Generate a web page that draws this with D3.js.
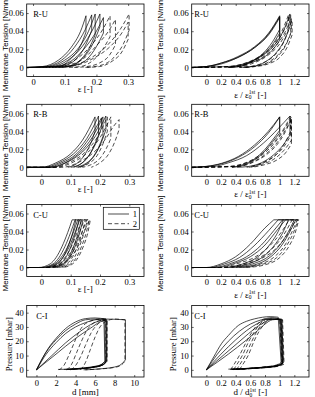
<!DOCTYPE html>
<html>
<head>
<meta charset="utf-8">
<script src="https://cdn.jsdelivr.net/npm/d3@7"></script>
<style>
  body { margin: 0; background: #fff; }
  svg { display: block; }
</style>
</head>
<body>
<div id="chart"></div>
<script>
// ---- values ----

// tick values
const strainTicks = [0, 0.1, 0.2, 0.3];
const normTicks = [0, 0.2, 0.4, 0.6, 0.8, 1, 1.2];
const tensionTicks = [0, 0.02, 0.04, 0.06];
const dispTicks = [0, 2, 4, 6, 8, 10];
const pressureTicks = [0, 10, 20, 30, 40];

const panelNames = ['R-U', 'R-U', 'R-B', 'R-B', 'C-U', 'C-U', 'C-I', 'C-I'];
const legendLabels = ['1', '2'];

// each loop: s = series (1 solid, 2 dashed), load = loading branch, unload = branch after the drop
const ruStrain = [
  { s: 1, load: [[-0.02, 0], [0.03, 0.001], [0.08, 0.008], [0.12, 0.022], [0.15, 0.04], [0.167, 0.057]], unload: [[0.167, 0.039], [0.15, 0.024], [0.12, 0.01], [0.09, 0.002], [0.05, 0]] },
  { s: 1, load: [[-0.02, 0], [0.04, 0.001], [0.09, 0.008], [0.13, 0.022], [0.165, 0.042], [0.185, 0.058]], unload: [[0.185, 0.041], [0.165, 0.024], [0.135, 0.009], [0.1, 0.002], [0.06, 0]] },
  { s: 1, load: [[-0.02, 0], [0.05, 0.001], [0.1, 0.008], [0.14, 0.02], [0.175, 0.04], [0.196, 0.059]], unload: [[0.196, 0.036], [0.175, 0.02], [0.145, 0.007], [0.11, 0.001], [0.07, 0]] },
  { s: 1, load: [[-0.02, 0], [0.06, 0.001], [0.11, 0.008], [0.155, 0.023], [0.19, 0.043], [0.211, 0.059]], unload: [[0.211, 0.045], [0.19, 0.027], [0.16, 0.011], [0.12, 0.002], [0.08, 0]] },
  { s: 1, load: [[-0.02, 0], [0.07, 0.001], [0.12, 0.007], [0.16, 0.02], [0.2, 0.04], [0.222, 0.055]], unload: [[0.222, 0.038], [0.2, 0.023], [0.17, 0.009], [0.13, 0.002], [0.09, 0]] },
  { s: 2, load: [[0.01, 0], [0.09, 0.002], [0.14, 0.01], [0.18, 0.023], [0.22, 0.042], [0.243, 0.057]], unload: [[0.243, 0.034], [0.22, 0.02], [0.19, 0.008], [0.15, 0.001], [0.11, 0]] },
  { s: 2, load: [[0.02, 0], [0.1, 0.002], [0.16, 0.01], [0.2, 0.024], [0.24, 0.041], [0.26, 0.053]], unload: [[0.26, 0.025], [0.24, 0.013], [0.21, 0.005], [0.17, 0.001], [0.13, 0]] },
  { s: 2, load: [[0.03, 0], [0.12, 0.002], [0.18, 0.01], [0.23, 0.023], [0.275, 0.042], [0.303, 0.059]], unload: [[0.303, 0.041], [0.285, 0.026], [0.255, 0.011], [0.22, 0.003], [0.17, 0]] },
  { s: 2, load: [[0.04, 0], [0.13, 0.002], [0.19, 0.01], [0.24, 0.022], [0.28, 0.038], [0.3, 0.05]], unload: [[0.3, 0.031], [0.28, 0.017], [0.25, 0.007], [0.21, 0.001], [0.16, 0]] }
];

const ruNorm = [
  { s: 1, load: [[-0.2, 0], [0, 0.001], [0.21, 0.005], [0.43, 0.011], [0.66, 0.022], [0.85, 0.037], [1, 0.056]], unload: [[1, 0.03], [0.9, 0.019], [0.78, 0.011], [0.6, 0.005], [0.45, 0.001], [0.3, 0]] },
  { s: 1, load: [[-0.2, 0], [0, 0.001], [0.21, 0.005], [0.43, 0.012], [0.66, 0.023], [0.85, 0.038], [1, 0.057]], unload: [[1, 0.038], [0.9, 0.025], [0.78, 0.015], [0.6, 0.006], [0.45, 0.002], [0.3, 0]] },
  { s: 1, load: [[-0.2, 0], [0, 0.001], [0.21, 0.004], [0.43, 0.011], [0.66, 0.022], [0.85, 0.036], [1, 0.055]], unload: [[1, 0.042], [0.9, 0.028], [0.78, 0.016], [0.6, 0.006], [0.45, 0.001], [0.3, 0]] },
  { s: 1, load: [[-0.2, 0], [0.3, 0.001], [0.55, 0.005], [0.78, 0.014], [0.95, 0.027], [1.06, 0.042], [1.14, 0.059]], unload: [[1.14, 0.045], [1.07, 0.031], [0.97, 0.018], [0.82, 0.007], [0.62, 0.001], [0.45, 0]] },
  { s: 2, load: [[-0.2, 0], [0.3, 0.001], [0.5, 0.004], [0.7, 0.011], [0.9, 0.024], [1.03, 0.04], [1.12, 0.058]], unload: [[1.12, 0.041], [1.05, 0.027], [0.95, 0.015], [0.8, 0.006], [0.6, 0.001], [0.45, 0]] },
  { s: 2, load: [[-0.2, 0], [0.35, 0.001], [0.55, 0.004], [0.75, 0.012], [0.93, 0.025], [1.06, 0.041], [1.15, 0.058]], unload: [[1.15, 0.037], [1.08, 0.024], [0.97, 0.012], [0.82, 0.004], [0.62, 0.001], [0.47, 0]] },
  { s: 2, load: [[-0.2, 0], [0.4, 0.001], [0.6, 0.005], [0.8, 0.013], [0.97, 0.026], [1.08, 0.04], [1.16, 0.055]], unload: [[1.16, 0.04], [1.1, 0.028], [1, 0.016], [0.85, 0.006], [0.65, 0.001], [0.5, 0]] },
  { s: 2, load: [[-0.2, 0], [0.45, 0.001], [0.65, 0.005], [0.85, 0.014], [1, 0.026], [1.1, 0.04], [1.17, 0.052]], unload: [[1.17, 0.036], [1.1, 0.022], [1, 0.011], [0.85, 0.004], [0.67, 0.001], [0.5, 0]] }
];

const rbStrain = [
  { s: 1, load: [[-0.05, 0], [0, 0], [0.05, 0.005], [0.1, 0.015], [0.14, 0.03], [0.183, 0.056]], unload: [[0.183, 0.04], [0.17, 0.028], [0.15, 0.015], [0.12, 0.004], [0.09, 0]] },
  { s: 1, load: [[-0.05, 0], [0.01, 0], [0.06, 0.005], [0.11, 0.015], [0.155, 0.032], [0.195, 0.057]], unload: [[0.195, 0.036], [0.18, 0.024], [0.16, 0.012], [0.13, 0.003], [0.1, 0]] },
  { s: 1, load: [[-0.05, 0], [0.02, 0], [0.07, 0.005], [0.12, 0.015], [0.165, 0.033], [0.205, 0.055]], unload: [[0.205, 0.044], [0.19, 0.03], [0.17, 0.017], [0.14, 0.005], [0.11, 0]] },
  { s: 1, load: [[-0.05, 0], [0.03, 0], [0.08, 0.005], [0.13, 0.016], [0.175, 0.034], [0.21, 0.056]], unload: [[0.21, 0.034], [0.195, 0.022], [0.175, 0.011], [0.145, 0.003], [0.12, 0]] },
  { s: 1, load: [[-0.05, 0], [0.035, 0], [0.09, 0.006], [0.14, 0.017], [0.185, 0.035], [0.22, 0.057]], unload: [[0.22, 0.042], [0.205, 0.028], [0.185, 0.015], [0.155, 0.004], [0.125, 0]] },
  { s: 2, load: [[-0.05, 0], [0.04, 0], [0.1, 0.006], [0.15, 0.017], [0.19, 0.033], [0.225, 0.056]], unload: [[0.225, 0.04], [0.21, 0.026], [0.19, 0.013], [0.16, 0.004], [0.13, 0]] },
  { s: 2, load: [[-0.05, 0], [0.05, 0], [0.11, 0.006], [0.16, 0.017], [0.2, 0.033], [0.237, 0.056]], unload: [[0.237, 0.032], [0.22, 0.02], [0.2, 0.01], [0.17, 0.003], [0.14, 0]] },
  { s: 2, load: [[-0.05, 0], [0.07, 0], [0.13, 0.006], [0.18, 0.017], [0.22, 0.032], [0.245, 0.045], [0.265, 0.053]], unload: [[0.265, 0.042], [0.25, 0.028], [0.23, 0.015], [0.2, 0.005], [0.17, 0]] }
];

const rbNorm = [
  { s: 1, load: [[-0.2, 0], [0, 0.001], [0.21, 0.0045], [0.435, 0.012], [0.66, 0.025], [0.845, 0.04], [1, 0.056]], unload: [[1, 0.038], [0.9, 0.028], [0.8, 0.018], [0.65, 0.008], [0.5, 0.002], [0.35, 0]] },
  { s: 1, load: [[-0.2, 0], [0, 0.001], [0.21, 0.004], [0.435, 0.011], [0.66, 0.023], [0.845, 0.038], [1, 0.056]], unload: [[1, 0.041], [0.9, 0.03], [0.8, 0.02], [0.65, 0.009], [0.5, 0.003], [0.35, 0]] },
  { s: 1, load: [[-0.2, 0], [0.1, 0.001], [0.3, 0.005], [0.55, 0.013], [0.78, 0.027], [0.98, 0.043], [1.14, 0.057]], unload: [[1.14, 0.036], [1.05, 0.025], [0.92, 0.014], [0.75, 0.005], [0.58, 0.001], [0.42, 0]] },
  { s: 2, load: [[-0.2, 0], [0.3, 0.001], [0.5, 0.004], [0.7, 0.012], [0.9, 0.026], [1.05, 0.042], [1.15, 0.057]], unload: [[1.15, 0.035], [1.05, 0.022], [0.9, 0.011], [0.7, 0.003], [0.55, 0]] },
  { s: 2, load: [[-0.2, 0], [0.35, 0.001], [0.55, 0.005], [0.75, 0.013], [0.93, 0.027], [1.07, 0.043], [1.16, 0.056]], unload: [[1.16, 0.03], [1.06, 0.019], [0.92, 0.009], [0.74, 0.003], [0.58, 0]] },
  { s: 2, load: [[-0.2, 0], [0.4, 0.001], [0.6, 0.005], [0.8, 0.014], [0.97, 0.028], [1.09, 0.043], [1.15, 0.052]], unload: [[1.15, 0.04], [1.07, 0.027], [0.95, 0.014], [0.78, 0.005], [0.6, 0]] },
  { s: 2, load: [[-0.2, 0], [0.45, 0.001], [0.65, 0.006], [0.85, 0.016], [1, 0.029], [1.1, 0.043], [1.16, 0.054]], unload: [[1.16, 0.026], [1.08, 0.016], [0.96, 0.008], [0.8, 0.003], [0.62, 0]] }
];

const cuStrain = [
  { s: 1, load: [[-0.05, 0], [-0.01, 0], [0.03, 0.004], [0.05, 0.011], [0.07, 0.023], [0.09, 0.039], [0.105, 0.053]], unload: [[0.118, 0.053], [0.108, 0.04], [0.094, 0.026], [0.075, 0.012], [0.05, 0.003], [0.02, 0]] },
  { s: 1, load: [[-0.05, 0], [0, 0], [0.04, 0.004], [0.06, 0.011], [0.08, 0.023], [0.1, 0.039], [0.115, 0.053]], unload: [[0.128, 0.053], [0.118, 0.04], [0.104, 0.026], [0.085, 0.012], [0.06, 0.003], [0.03, 0]] },
  { s: 1, load: [[-0.05, 0], [0.005, 0], [0.045, 0.004], [0.067, 0.011], [0.088, 0.022], [0.108, 0.038], [0.124, 0.053]], unload: [[0.136, 0.053], [0.126, 0.039], [0.112, 0.025], [0.093, 0.011], [0.068, 0.003], [0.038, 0]] },
  { s: 1, load: [[-0.05, 0], [0.01, 0], [0.05, 0.004], [0.073, 0.011], [0.095, 0.023], [0.115, 0.039], [0.131, 0.053]], unload: [[0.142, 0.053], [0.132, 0.04], [0.118, 0.026], [0.099, 0.012], [0.074, 0.003], [0.044, 0]] },
  { s: 2, load: [[-0.05, 0], [0.015, 0], [0.056, 0.004], [0.08, 0.011], [0.102, 0.023], [0.122, 0.039], [0.138, 0.053]], unload: [[0.15, 0.053], [0.14, 0.04], [0.126, 0.026], [0.107, 0.012], [0.082, 0.003], [0.052, 0]] },
  { s: 2, load: [[-0.05, 0], [0.02, 0], [0.062, 0.004], [0.087, 0.011], [0.11, 0.023], [0.13, 0.039], [0.146, 0.053]], unload: [[0.157, 0.053], [0.147, 0.04], [0.133, 0.026], [0.114, 0.012], [0.089, 0.003], [0.059, 0]] },
  { s: 2, load: [[-0.05, 0], [0.025, 0], [0.068, 0.004], [0.094, 0.011], [0.117, 0.023], [0.138, 0.039], [0.155, 0.053]], unload: [[0.163, 0.053], [0.154, 0.04], [0.14, 0.026], [0.121, 0.012], [0.096, 0.003], [0.066, 0]] },
  { s: 2, load: [[-0.05, 0], [0.03, 0], [0.074, 0.004], [0.1, 0.011], [0.124, 0.023], [0.145, 0.039], [0.16, 0.05], [0.165, 0.053]], unload: [[0.167, 0.053], [0.158, 0.038], [0.145, 0.025], [0.127, 0.012], [0.102, 0.003], [0.072, 0]] }
];

const cuNorm = [
  { s: 1, load: [[-0.2, 0], [0, 0], [0.2, 0.004], [0.4, 0.012], [0.6, 0.026], [0.8, 0.044], [0.92, 0.053]], unload: [[1.05, 0.053], [0.98, 0.04], [0.88, 0.027], [0.72, 0.013], [0.5, 0.004], [0.25, 0]] },
  { s: 1, load: [[-0.2, 0], [0.05, 0], [0.25, 0.004], [0.45, 0.011], [0.65, 0.024], [0.85, 0.041], [0.98, 0.053]], unload: [[1.12, 0.053], [1.05, 0.04], [0.95, 0.027], [0.79, 0.013], [0.57, 0.004], [0.3, 0]] },
  { s: 1, load: [[-0.2, 0], [0.1, 0], [0.35, 0.005], [0.55, 0.012], [0.75, 0.025], [0.92, 0.041], [1.04, 0.053]], unload: [[1.2, 0.053], [1.12, 0.04], [1.02, 0.027], [0.86, 0.013], [0.63, 0.004], [0.35, 0]] },
  { s: 1, load: [[-0.2, 0], [0.15, 0], [0.4, 0.005], [0.6, 0.012], [0.8, 0.025], [0.97, 0.042], [1.08, 0.053]], unload: [[1.22, 0.053], [1.14, 0.04], [1.04, 0.026], [0.88, 0.012], [0.66, 0.003], [0.4, 0]] },
  { s: 2, load: [[-0.2, 0], [0.2, 0], [0.45, 0.005], [0.65, 0.011], [0.85, 0.023], [1.02, 0.039], [1.13, 0.053]], unload: [[1.24, 0.053], [1.17, 0.04], [1.08, 0.026], [0.93, 0.012], [0.7, 0.003], [0.45, 0]] },
  { s: 2, load: [[-0.2, 0], [0.25, 0], [0.5, 0.004], [0.7, 0.01], [0.9, 0.021], [1.06, 0.037], [1.17, 0.053]], unload: [[1.25, 0.053], [1.19, 0.039], [1.1, 0.025], [0.96, 0.011], [0.74, 0.003], [0.5, 0]] },
  { s: 2, load: [[-0.2, 0], [0.3, 0], [0.55, 0.004], [0.75, 0.01], [0.95, 0.021], [1.1, 0.036], [1.2, 0.05], [1.22, 0.053]], unload: [[1.26, 0.053], [1.21, 0.038], [1.13, 0.024], [1, 0.011], [0.8, 0.003], [0.55, 0]] }
];

const ciDisp = [
  { s: 1, load: [[0, 0], [0.6, 8], [1.3, 16], [2, 22], [3, 29], [4, 33.5], [5, 35.8], [6, 36.3], [7.1, 35.5]], unload: [[7.15, 7], [6.7, 4], [6, 2.5], [5, 1.5], [4, 0.8], [3, 0.4], [2.2, 0.3]] },
  { s: 1, load: [[0, 0], [1, 11], [2, 19], [3, 25.5], [4, 30], [5, 33], [6, 35], [6.9, 35.5]], unload: [[7, 6], [6.6, 3.5], [5.8, 2], [4.8, 1.2], [3.8, 0.6], [2.8, 0.3]] },
  { s: 1, load: [[0, 0], [1.5, 9.5], [3, 19], [4.5, 27], [5.5, 31.5], [6.3, 34], [7, 35]], unload: [[7.05, 5], [6.6, 3], [5.8, 1.8], [4.8, 1], [3.8, 0.5], [3, 0.3]] },
  { s: 1, load: [[0, 0], [2, 11], [4, 22], [5.5, 29], [6.5, 33.5], [7.2, 35]], unload: [[7.2, 6], [6.8, 3.5], [6, 2], [5, 1], [4, 0.5], [3.2, 0.3]] },
  { s: 1, load: [[0, 0], [1, 12.5], [2, 21], [3, 27.5], [4, 32], [5, 35], [6, 35.5], [7.2, 35.5], [9.1, 35]], unload: [[9.1, 7], [8.7, 4], [8, 2], [7, 1], [6, 0.4], [5, 0]] },
  { s: 2, load: [[2.3, 0], [2.8, 3], [3.3, 10], [3.8, 18], [4.3, 26], [4.8, 31], [5.5, 34], [6.5, 35.5], [7.2, 35.5]], unload: [[7.2, 6], [6.8, 3.5], [6, 2], [5, 1], [4, 0.6], [3.3, 0.3]] },
  { s: 2, load: [[3.1, 0], [3.6, 4], [4.1, 12], [4.6, 20], [5.1, 27], [5.7, 32], [6.5, 34.5], [7.1, 35]], unload: [[7.1, 5], [6.7, 3], [5.9, 1.8], [4.9, 1], [4, 0.5], [3.2, 0.2]] },
  { s: 2, load: [[3.5, 0], [4, 3], [4.5, 9], [5, 17], [5.6, 26], [6.2, 31.5], [6.9, 34.5], [7.2, 35]], unload: [[7.2, 7], [6.8, 4], [6, 2.3], [5, 1.2], [4.2, 0.6], [3.5, 0.3]] },
  { s: 2, load: [[4.5, 0], [5, 5], [5.5, 14], [6, 23], [6.5, 30], [7, 33.5], [8, 35.5], [9.05, 35]], unload: [[9.05, 6], [8.6, 3], [7.8, 1.5], [6.8, 0.8], [5.8, 0.3], [4.6, 0]] }
];

const ciNorm = [
  { s: 1, load: [[0, 0], [0.1, 9], [0.21, 18.6], [0.3, 24], [0.435, 31], [0.55, 34], [0.66, 35.7], [0.87, 37.2], [0.98, 36.8]], unload: [[1.02, 5], [0.95, 3], [0.8, 2], [0.6, 1.2], [0.45, 0.7], [0.3, 0.5]] },
  { s: 1, load: [[0, 0], [0.15, 11], [0.3, 20], [0.45, 27], [0.6, 32], [0.75, 35], [0.9, 36.5], [1, 35.5]], unload: [[1.03, 4], [0.95, 2.5], [0.8, 1.7], [0.6, 1], [0.45, 0.6], [0.33, 0.4]] },
  { s: 1, load: [[0, 0], [0.2, 11], [0.4, 21], [0.55, 27.5], [0.7, 32.5], [0.85, 35.5], [1.01, 35]], unload: [[1.04, 5], [0.97, 3], [0.82, 2], [0.62, 1.2], [0.47, 0.7], [0.35, 0.5]] },
  { s: 1, load: [[0, 0], [0.25, 11], [0.5, 22], [0.65, 28.5], [0.78, 33], [0.9, 35.5], [1.02, 35]], unload: [[1.04, 4], [0.96, 2.4], [0.8, 1.5], [0.6, 0.9], [0.45, 0.5], [0.35, 0.3]] },
  { s: 1, load: [[0, 0], [0.3, 11], [0.55, 21], [0.7, 27.5], [0.8, 32], [0.9, 35], [1.03, 35.5]], unload: [[1.05, 5], [0.98, 3], [0.83, 2], [0.63, 1.1], [0.48, 0.6], [0.36, 0.4]] },
  { s: 2, load: [[0.33, 0], [0.38, 4], [0.45, 10], [0.55, 20], [0.63, 27], [0.7, 32], [0.8, 35.5], [1, 35.5]], unload: [[1.03, 6], [0.96, 3.5], [0.82, 2.2], [0.62, 1.2], [0.45, 0.6], [0.34, 0.3]] },
  { s: 2, load: [[0.37, 0], [0.42, 4], [0.49, 10], [0.58, 20], [0.66, 27], [0.73, 32], [0.83, 35.5], [1.02, 35.5]], unload: [[1.04, 5], [0.97, 3], [0.84, 2], [0.64, 1.1], [0.47, 0.5], [0.37, 0.2]] },
  { s: 2, load: [[0.41, 0], [0.46, 4], [0.53, 10], [0.62, 20], [0.69, 27], [0.76, 32], [0.86, 35.5], [1.03, 35]], unload: [[1.05, 5], [0.98, 3.2], [0.85, 2.1], [0.65, 1.2], [0.5, 0.6], [0.4, 0.3]] },
  { s: 2, load: [[0.45, 0], [0.5, 4], [0.57, 10], [0.65, 20], [0.72, 27], [0.79, 32], [0.88, 35.5], [1.04, 35]], unload: [[1.06, 4], [0.99, 2.6], [0.86, 1.8], [0.66, 1], [0.52, 0.5], [0.43, 0.2]] }
];

// ---- layout ----
const width = 315, height = 397;
const colX = [26.7, 191.7];
const rowY = [4, 104.3, 204.5, 305.5];
const boxW = 117.3;
const boxH = [72.5, 72, 72, 71.5];
const serif = '"Liberation Serif", "Times New Roman", serif';
const sans = '"Liberation Sans", Arial, sans-serif';

const panels = [
  { loops: ruStrain, xDomain: [-0.02, 0.35], xTicks: strainTicks, yDomain: [-0.01, 0.07], yTicks: tensionTicks, xLabel: 'strain' },
  { loops: ruNorm, xDomain: [-0.2, 1.4], xTicks: normTicks, yDomain: [-0.01, 0.07], yTicks: tensionTicks, xLabel: 'normStrain' },
  { loops: rbStrain, xDomain: [-0.05, 0.35], xTicks: strainTicks, yDomain: [-0.01, 0.07], yTicks: tensionTicks, xLabel: 'strain' },
  { loops: rbNorm, xDomain: [-0.2, 1.4], xTicks: normTicks, yDomain: [-0.01, 0.07], yTicks: tensionTicks, xLabel: 'normStrain' },
  { loops: cuStrain, xDomain: [-0.05, 0.35], xTicks: strainTicks, yDomain: [-0.01, 0.07], yTicks: tensionTicks, xLabel: 'strain', legend: true },
  { loops: cuNorm, xDomain: [-0.2, 1.4], xTicks: normTicks, yDomain: [-0.01, 0.07], yTicks: tensionTicks, xLabel: 'normStrain' },
  { loops: ciDisp, xDomain: [-1, 11], xTicks: dispTicks, yDomain: [-5, 45], yTicks: pressureTicks, xLabel: 'disp' },
  { loops: ciNorm, xDomain: [-0.2, 1.4], xTicks: normTicks, yDomain: [-5, 45], yTicks: pressureTicks, xLabel: 'normDisp' }
];

const svg = d3.select('#chart').append('svg')
  .attr('width', width)
  .attr('height', height)
  .style('font-family', serif);

svg.append('rect').attr('width', width).attr('height', height).attr('fill', '#fff');

// loading branch + straight drop + unloading branch, as one path
function loopPath(loop, x, y) {
  const line = d3.line().x(d => x(d[0])).y(d => y(d[1])).curve(d3.curveMonotoneX);
  const a = line(loop.load);
  const b = line(loop.unload);
  return a + 'L' + b.slice(1);
}

function fmt(v) { return String(v); }

// label like "ε / ε0^1st [-]" (sub 0 with 1st stacked above it)
function normLabel(g, sym, cx, yy) {
  const t = g.append('text')
    .attr('x', cx).attr('y', yy)
    .attr('text-anchor', 'middle')
    .attr('font-size', 9);
  t.append('tspan').text(sym + ' / ' + sym);
  t.append('tspan').attr('font-size', 5.5).attr('dy', 1.5).text('0');
  t.append('tspan').attr('font-size', 5.5).attr('dx', -2.8).attr('dy', -5).text('1st');
  t.append('tspan').attr('dy', 3.5).text(' [-]');
}

function drawPanel(p, i) {
  const col = i % 2, row = Math.floor(i / 2);
  const w = boxW, h = boxH[row];
  const x = d3.scaleLinear().domain(p.xDomain).range([0, w]);
  const y = d3.scaleLinear().domain(p.yDomain).range([h, 0]);

  const g = svg.append('g').attr('transform', `translate(${colX[col]},${rowY[row]})`);

  g.append('clipPath').attr('id', 'clip' + i)
    .append('rect').attr('width', w).attr('height', h);

  g.append('g').attr('clip-path', `url(#clip${i})`)
    .selectAll('path')
    .data(p.loops)
    .join('path')
    .attr('d', d => loopPath(d, x, y))
    .attr('fill', 'none')
    .attr('stroke', '#000')
    .attr('stroke-width', 0.7)
    .attr('stroke-dasharray', d => d.s === 2 ? '4,2.5' : null);

  // inward ticks on all four sides
  const axes = [
    g.append('g').attr('transform', `translate(0,${h})`)
      .call(d3.axisBottom(x).tickValues(p.xTicks).tickSize(-2).tickPadding(2.5).tickFormat(fmt)),
    g.append('g')
      .call(d3.axisTop(x).tickValues(p.xTicks).tickSize(-2).tickFormat('')),
    g.append('g')
      .call(d3.axisLeft(y).tickValues(p.yTicks).tickSize(-2).tickPadding(3).tickFormat(fmt)),
    g.append('g').attr('transform', `translate(${w},0)`)
      .call(d3.axisRight(y).tickValues(p.yTicks).tickSize(-2).tickFormat(''))
  ];
  axes.forEach(a => {
    a.attr('font-family', null).attr('font-size', 8.5);
    a.select('.domain').remove();
    a.selectAll('.tick line').attr('stroke-width', 0.6);
  });

  g.append('rect')
    .attr('width', w).attr('height', h)
    .attr('fill', 'none').attr('stroke', '#000').attr('stroke-width', 0.8);

  // panel name
  const nameX = col === 0 ? (row === 3 ? 9.5 : 6.5) : 2.6;
  g.append('text')
    .attr('x', nameX).attr('y', 13)
    .attr('font-size', 8.5)
    .text(panelNames[i]);

  // y label (the long one runs past the top edge, as in the figure)
  const yLab = row === 3 ? 'Pressure [mbar]' : 'Membrane Tension [N/mm]';
  const yLabX = col === 0 ? (row === 3 ? -14.5 : -18.5) : (row === 3 ? -15.5 : -28.5);
  g.append('text')
    .attr('transform', `translate(${yLabX},${h / 2 + 3}) rotate(-90)`)
    .attr('text-anchor', 'middle')
    .attr('font-size', row === 3 ? 8.5 : 8)
    .attr('font-family', row === 3 ? serif : sans)
    .text(yLab);

  // x label
  if (p.xLabel === 'strain') {
    g.append('text').attr('x', w / 2).attr('y', h + 15.5)
      .attr('text-anchor', 'middle').attr('font-size', 9).text('ε [-]');
  } else if (p.xLabel === 'disp') {
    g.append('text').attr('x', w / 2).attr('y', h + 17.5)
      .attr('text-anchor', 'middle').attr('font-size', 9).text('d [mm]');
  } else if (p.xLabel === 'normStrain') {
    normLabel(g, 'ε', w / 2, h + 21);
  } else {
    normLabel(g, 'd', w / 2, h + 18);
  }

  if (p.legend) {
    const lg = g.append('g').attr('transform', 'translate(76.6,2.8)');
    lg.append('rect').attr('width', 36).attr('height', 22)
      .attr('fill', '#fff').attr('stroke', '#000').attr('stroke-width', 0.7);
    legendLabels.forEach((lab, k) => {
      const ly = 6.7 + k * 9.7;
      lg.append('line')
        .attr('x1', 4.7).attr('x2', 25.7).attr('y1', ly).attr('y2', ly)
        .attr('stroke', '#000').attr('stroke-width', 0.7)
        .attr('stroke-dasharray', k === 1 ? '4,2.5' : null);
      lg.append('text').attr('x', 29.5).attr('y', ly + 3)
        .attr('font-size', 8.5).text(lab);
    });
  }
}

panels.forEach(drawPanel);
</script>
</body>
</html>
